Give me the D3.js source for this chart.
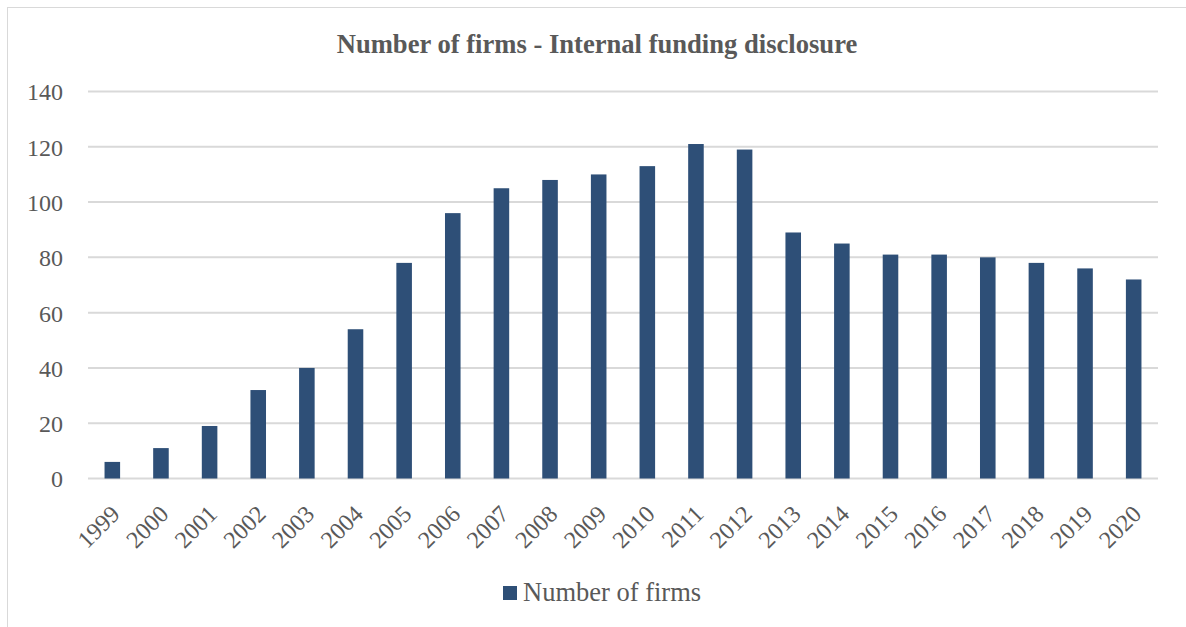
<!DOCTYPE html>
<html>
<head>
<meta charset="utf-8">
<script src="https://cdn.jsdelivr.net/npm/d3@7"></script>
<style>
  body { margin: 0; background: #fff; }
  text { font-family: "Liberation Serif", "Times New Roman", serif; fill: #595959; }
</style>
</head>
<body>
<svg></svg>
<script>
var svgWidth = 1186;
var svgHeight = 627;

var years = ["1999", "2000", "2001", "2002", "2003", "2004", "2005", "2006", "2007", "2008", "2009",
  "2010", "2011", "2012", "2013", "2014", "2015", "2016", "2017", "2018", "2019", "2020"];
var firms = [6, 11, 19, 32, 40, 54, 78, 96, 105, 108, 110, 113, 121, 119, 89, 85, 81, 81, 80, 78, 76, 72];
var yTicks = [0, 20, 40, 60, 80, 100, 120, 140];

var title = "Number of firms - Internal funding disclosure";
var seriesName = "Number of firms";
var barColor = "#2e4f77";

var svg = d3.select("svg")
  .attr("width", svgWidth)
  .attr("height", svgHeight);

// chart area border
svg.append("rect")
  .attr("x", 7.5).attr("y", 7.5)
  .attr("width", 1190).attr("height", 640)
  .attr("fill", "none")
  .attr("stroke", "#d9d9d9")
  .attr("stroke-width", 1);

var plotLeft = 88, plotRight = 1158, plotTop = 91.5, plotBottom = 478.5;

var x = d3.scaleBand()
  .domain(years)
  .range([plotLeft, plotRight])
  .paddingInner(0.68)
  .paddingOuter(0.34);

var y = d3.scaleLinear()
  .domain([0, 140])
  .range([plotBottom, plotTop]);

// gridlines
svg.append("g")
  .selectAll("line")
  .data(yTicks)
  .enter()
  .append("line")
  .attr("x1", plotLeft).attr("x2", plotRight)
  .attr("y1", function(d) { return y(d); })
  .attr("y2", function(d) { return y(d); })
  .attr("stroke", "#d9d9d9")
  .attr("stroke-width", 2);

// y axis labels
var yAxis = d3.axisLeft(y).tickValues(yTicks).tickSize(0).tickPadding(0);
var yg = svg.append("g")
  .attr("transform", "translate(63,0)")
  .call(yAxis);
yg.select(".domain").remove();
yg.selectAll("text")
  .attr("font-size", 24)
  .attr("font-family", "Liberation Serif")
  .attr("fill", "#595959")
  .attr("dy", "0.35em");

// bars
svg.append("g")
  .selectAll("rect")
  .data(firms)
  .enter()
  .append("rect")
  .attr("x", function(d, i) { return x(years[i]); })
  .attr("y", function(d) { return y(d); })
  .attr("width", x.bandwidth())
  .attr("height", function(d) { return plotBottom - y(d); })
  .attr("fill", barColor);

// x axis labels, rotated
var xAxis = d3.axisBottom(x).tickSize(0).tickPadding(0);
var xg = svg.append("g")
  .attr("transform", "translate(0," + plotBottom + ")")
  .call(xAxis);
xg.select(".domain").remove();
xg.selectAll("text")
  .attr("font-size", 24)
  .attr("font-family", "Liberation Serif")
  .attr("fill", "#595959")
  .attr("text-anchor", "end")
  .attr("y", 0)
  .attr("dy", "0.35em")
  .attr("transform", "translate(3,31) rotate(-45)");

// title
svg.append("text")
  .attr("x", 597)
  .attr("y", 53)
  .attr("text-anchor", "middle")
  .attr("font-size", 26.6)
  .attr("font-weight", "bold")
  .text(title);

// legend
var legend = svg.append("g").attr("transform", "translate(503,586)");
legend.append("rect")
  .attr("x", 0).attr("y", 0)
  .attr("width", 14).attr("height", 14)
  .attr("fill", barColor);
legend.append("text")
  .attr("x", 20)
  .attr("y", 15)
  .attr("font-size", 26.5)
  .text(seriesName);
</script>
</body>
</html>
